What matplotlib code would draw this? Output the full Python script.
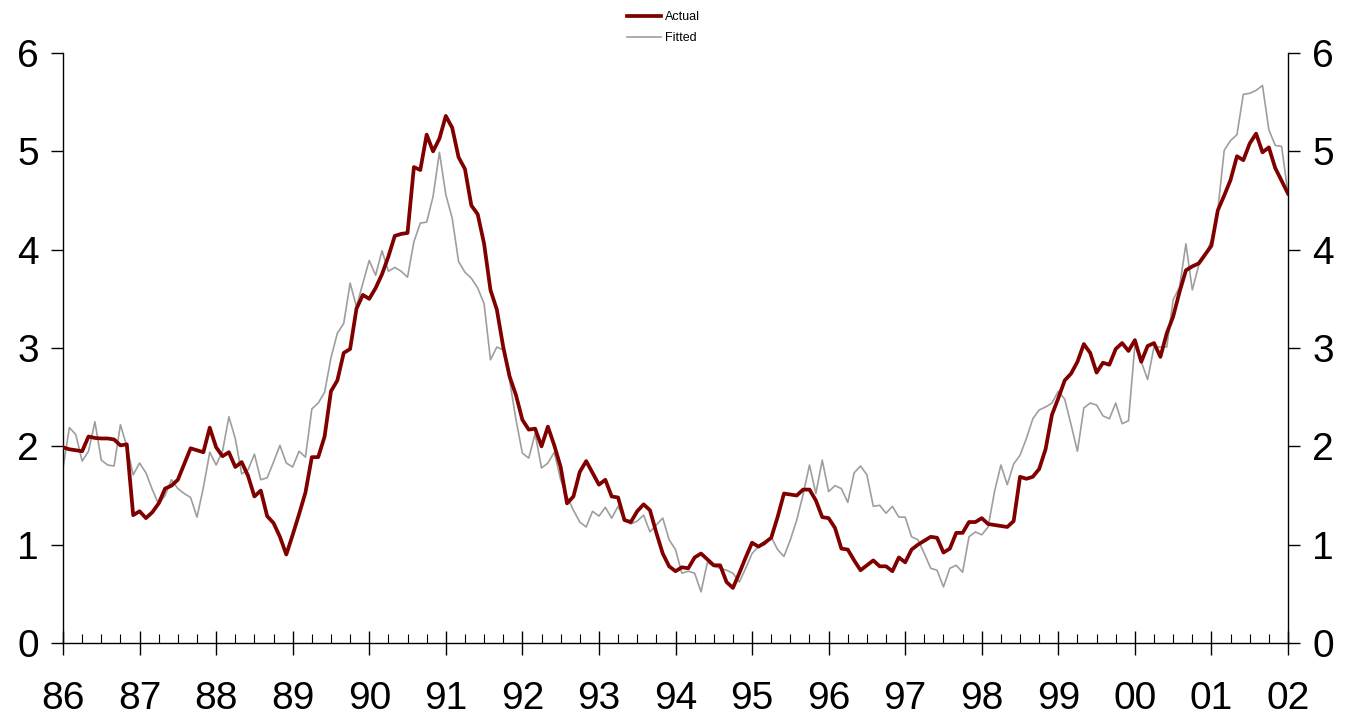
import numpy as np
import matplotlib
matplotlib.use("Agg")
import matplotlib.pyplot as plt
from matplotlib.ticker import MultipleLocator, FixedLocator

# Monthly data, Jan 1986 .. Jan 2002
start_year = 1986
actual = [
    1.99, 1.97, 1.96, 1.95, 2.10, 2.085, 2.08, 2.08, 2.07, 2.01, 2.02, 1.30,
    1.34, 1.27, 1.33, 1.42, 1.57, 1.60, 1.66, 1.82, 1.98, 1.96, 1.94, 2.19,
    1.99, 1.90, 1.94, 1.79, 1.84, 1.70, 1.49, 1.55, 1.29, 1.22, 1.08, 0.90,
    1.10, 1.31, 1.53, 1.89, 1.89, 2.10, 2.56, 2.67, 2.95, 2.99, 3.40, 3.54,
    3.50, 3.61, 3.75, 3.93, 4.14, 4.16, 4.17, 4.84, 4.81, 5.17, 5.00, 5.13,
    5.36, 5.24, 4.94, 4.82, 4.45, 4.36, 4.06, 3.59, 3.39, 3.01, 2.71, 2.52,
    2.27, 2.17, 2.18, 2.00, 2.20, 2.01, 1.79, 1.42, 1.49, 1.74, 1.85, 1.73,
    1.61, 1.66, 1.49, 1.48, 1.25, 1.23, 1.34, 1.41, 1.35, 1.12, 0.91, 0.78,
    0.73, 0.77, 0.76, 0.87, 0.91, 0.85, 0.79, 0.79, 0.62, 0.56, 0.71, 0.87,
    1.02, 0.98, 1.02, 1.07, 1.28, 1.52, 1.51, 1.50, 1.56, 1.56, 1.45, 1.28,
    1.27, 1.17, 0.96, 0.95, 0.84, 0.74, 0.79, 0.84, 0.78, 0.78, 0.73, 0.87,
    0.82, 0.95, 1.00, 1.04, 1.08, 1.07, 0.92, 0.96, 1.12, 1.12, 1.23, 1.23,
    1.27, 1.21, 1.20, 1.19, 1.18, 1.24, 1.69, 1.67, 1.69, 1.77, 1.97, 2.32,
    2.49, 2.67, 2.74, 2.86, 3.04, 2.95, 2.75, 2.85, 2.83, 2.99, 3.05, 2.97,
    3.08, 2.86, 3.02, 3.05, 2.91, 3.15, 3.32, 3.57, 3.79, 3.83, 3.86, 3.95,
    4.04, 4.40, 4.55, 4.71, 4.95, 4.91, 5.08, 5.18, 4.99, 5.04, 4.83, 4.70,
    4.57,
]
fitted = [
    1.78, 2.19, 2.12, 1.85, 1.95, 2.25, 1.86, 1.81, 1.80, 2.22, 2.00, 1.71,
    1.83, 1.73, 1.56, 1.41, 1.50, 1.66, 1.57, 1.52, 1.48, 1.28, 1.58, 1.94,
    1.81, 1.95, 2.30, 2.08, 1.72, 1.76, 1.92, 1.66, 1.68, 1.84, 2.01, 1.83,
    1.79, 1.95, 1.89, 2.38, 2.44, 2.55, 2.90, 3.15, 3.25, 3.66, 3.42, 3.66,
    3.89, 3.74, 3.99, 3.78, 3.82, 3.78, 3.72, 4.08, 4.27, 4.28, 4.54, 4.99,
    4.56, 4.32, 3.88, 3.77, 3.71, 3.61, 3.45, 2.88, 3.01, 2.98, 2.67, 2.27,
    1.93, 1.88, 2.13, 1.78, 1.83, 1.94, 1.66, 1.49, 1.35, 1.23, 1.18, 1.34,
    1.29, 1.38, 1.27, 1.39, 1.25, 1.21, 1.24, 1.30, 1.13, 1.20, 1.27, 1.05,
    0.95, 0.71, 0.73, 0.71, 0.52, 0.82, 0.78, 0.76, 0.74, 0.71, 0.62, 0.76,
    0.91, 0.98, 1.00, 1.08, 0.95, 0.88, 1.05, 1.25, 1.51, 1.81, 1.52, 1.86,
    1.54, 1.60, 1.57, 1.43, 1.73, 1.80, 1.71, 1.39, 1.40, 1.32, 1.39, 1.28,
    1.28, 1.08, 1.05, 0.91, 0.76, 0.74, 0.57, 0.76, 0.79, 0.72, 1.08, 1.13,
    1.10, 1.18, 1.54, 1.81, 1.61, 1.82, 1.91, 2.08, 2.28, 2.37, 2.40, 2.44,
    2.56, 2.48, 2.22, 1.95, 2.39, 2.44, 2.42, 2.31, 2.28, 2.44, 2.23, 2.26,
    3.03, 2.86, 2.68, 3.01, 3.01, 3.01, 3.49, 3.62, 4.06, 3.59, 3.84, 3.93,
    4.10, 4.40, 5.01, 5.11, 5.17, 5.58, 5.59, 5.62, 5.67, 5.22, 5.06, 5.05,
    4.57,
]
year_ticks = list(range(1986, 2003))
year_labels = [f"{y % 100:02d}" for y in year_ticks]
y_ticks = [0, 1, 2, 3, 4, 5, 6]

x = start_year + np.arange(len(actual)) / 12.0

plt.rcParams['font.family'] = ['Liberation Sans', 'DejaVu Sans']

fig = plt.figure(figsize=(13.59, 7.22), dpi=100)
ax = fig.add_axes([63/1359, 79/722, (1288-63)/1359, (643-53)/722])

ax.plot(x, fitted, color='#9e9e9e', lw=1.2, label='Fitted', zorder=2)
ax.plot(x, actual, color='#800000', lw=2.7, label='Actual', zorder=3)

ax.set_xlim(1986, 2002)
ax.set_ylim(0, 6)

ax.spines['top'].set_visible(False)
for s in ['left', 'right', 'bottom']:
    ax.spines[s].set_linewidth(1.0)
    ax.spines[s].set_color('black')

ax.xaxis.set_major_locator(FixedLocator(year_ticks))
ax.set_xticklabels(year_labels)
ax.xaxis.set_minor_locator(MultipleLocator(0.25))
ax.tick_params(axis='x', which='major', direction='inout', length=17,
               width=1.0, labelsize=28, pad=19)
ax.tick_params(axis='x', which='minor', direction='in', length=6.5, width=0.8)

ax.set_yticks(y_ticks)
ax.yaxis.set_ticks_position('both')
ax.tick_params(axis='y', which='major', direction='out', length=8.5,
               width=1.0, labelsize=28, pad=9, labelleft=True, labelright=True)

h, l = ax.get_legend_handles_labels()
order = [1, 0]
leg = fig.legend([h[i] for i in order], [l[i] for i in order],
                 loc='upper left', bbox_to_anchor=(627/1359, 1 - 11/722),
                 frameon=False, handlelength=2.7,
                 handletextpad=0.3, labelspacing=0.75, borderpad=0,
                 borderaxespad=0,
                 prop={'family': ['Liberation Sans Narrow', 'Liberation Sans'], 'size': 9})

fig.savefig('out.png', dpi=100)
